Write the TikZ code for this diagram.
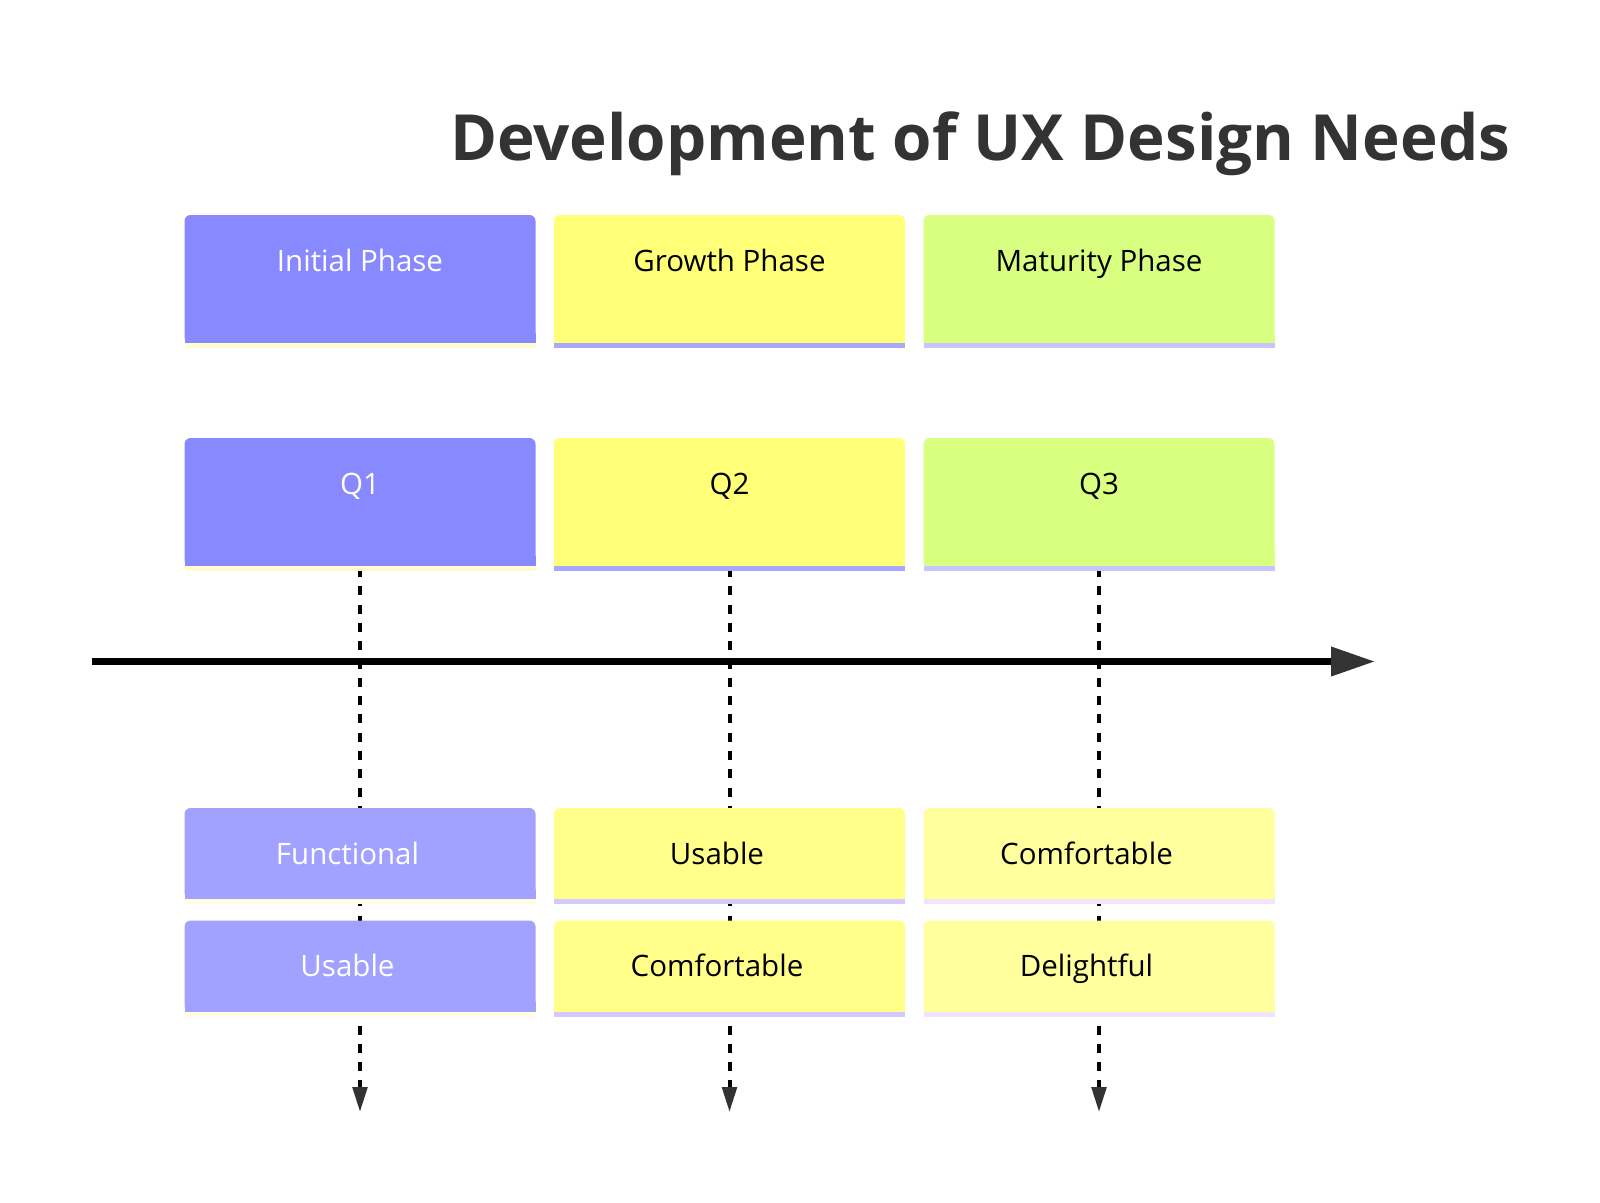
\documentclass[tikz,border=0pt]{standalone}
\usepackage{fontspec}
\setmainfont{Open Sans}
\usetikzlibrary{arrows.meta,calc,backgrounds}

\definecolor{titlegray}{HTML}{333333}
\definecolor{headgray}{HTML}{333333}
\definecolor{phaseA}{HTML}{8888FF}
\definecolor{phaseB}{HTML}{FFFF78}
\definecolor{phaseC}{HTML}{D9FF80}
\definecolor{stripA}{HTML}{FFFDD0}
\definecolor{stripB}{HTML}{A8A8FF}
\definecolor{stripC}{HTML}{C8C4FF}
\definecolor{needA}{HTML}{A1A1FF}
\definecolor{needB}{HTML}{FFFF8A}
\definecolor{needC}{HTML}{FFFF9E}
\definecolor{nstripA}{HTML}{FFFDE2}
\definecolor{nstripB}{HTML}{D2CAFF}
\definecolor{nstripC}{HTML}{F0E4FF}

\begin{document}
\begin{tikzpicture}[x=1pt, y=-1pt,
    card/.style={rectangle, rounded corners=6pt, minimum width=351pt, inner sep=0pt, outer sep=0pt},
    card_text/.style={font=\fontsize{29.5}{35}\selectfont, anchor=base},
    title_text/.style={font=\fontsize{63.7}{76}\selectfont\bfseries, text=titlegray, anchor=base},
    connection/.style={-{Triangle[length=25pt,width=14.5pt,fill=headgray,color=headgray]}, line width=4pt, dash pattern=on 9pt off 9.3pt, black},
    timeline/.style={-{Triangle[length=44pt,width=28pt,fill=headgray,color=headgray]}, line width=7pt, black}
]
\useasboundingbox (0,0) rectangle (1600,1202);

% --- TITLE ---
\node[title_text] (Title) at (980, 160) {Development of UX Design Needs};

% --- PHASES AND QUARTERS ---
\foreach \i/\x/\fc/\sc/\tc/\phase/\q in {
    1/360/phaseA/stripA/white/Initial Phase/Q1,
    2/729.5/phaseB/stripB/black/Growth Phase/Q2,
    3/1099/phaseC/stripC/black/Maturity Phase/Q3} {
    % phase card
    \node[card, fill=\fc, minimum height=128pt] (P\i) at (\x, 279) {};
    \fill[\fc] ($(P\i.south west)+(0,-10)$) rectangle (P\i.south east);
    \fill[\sc] (P\i.south west) rectangle ($(P\i.south east)+(0,5)$);
    \node[card_text, text=\tc] (PT\i) at ($(P\i.north)+(0,56.5)$) {\phase};
    % quarter card
    \node[card, fill=\fc, minimum height=128pt] (Q\i) at (\x, 502) {};
    \fill[\fc] ($(Q\i.south west)+(0,-10)$) rectangle (Q\i.south east);
    \fill[\sc] (Q\i.south west) rectangle ($(Q\i.south east)+(0,5)$);
    \node[card_text, text=\tc] (QT\i) at ($(Q\i.north)+(0,56)$) {\q};
}

% --- NEEDS ---
\foreach \i/\x/\fc/\sc/\tc/\first/\second in {
    1/360/needA/nstripA/white/Functional/Usable,
    2/729.5/needB/nstripB/black/Usable/Comfortable,
    3/1099/needC/nstripC/black/Comfortable/Delightful} {
    \node[card, fill=\fc, minimum height=91pt] (F\i) at (\x, 853.5) {};
    \fill[\fc] ($(F\i.south west)+(0,-10)$) rectangle (F\i.south east);
    \fill[\sc] (F\i.south west) rectangle ($(F\i.south east)+(0,5)$);
    \node[card_text, text=\tc] (FT\i) at ($(F\i.north)+(-12.5,56.5)$) {\first};
    \node[card, fill=\fc, minimum height=91pt] (S\i) at (\x, 966) {};
    \fill[\fc] ($(S\i.south west)+(0,-10)$) rectangle (S\i.south east);
    \fill[\sc] (S\i.south west) rectangle ($(S\i.south east)+(0,5)$);
    \node[card_text, text=\tc] (ST\i) at ($(S\i.north)+(-12.5,56)$) {\second};
    % dashed drop line behind the cards
    \coordinate (E\i) at (\x, 1112);
    \begin{scope}[on background layer]
        \draw[connection] ($(Q\i.south)+(0,2)$) -- (E\i);
    \end{scope}
}

% --- TIMELINE ---
\coordinate (T0) at (92, 661.5);
\coordinate (T1) at (1375, 661.5);
\draw[timeline] (T0) -- (T1);

\end{tikzpicture}
\end{document}
